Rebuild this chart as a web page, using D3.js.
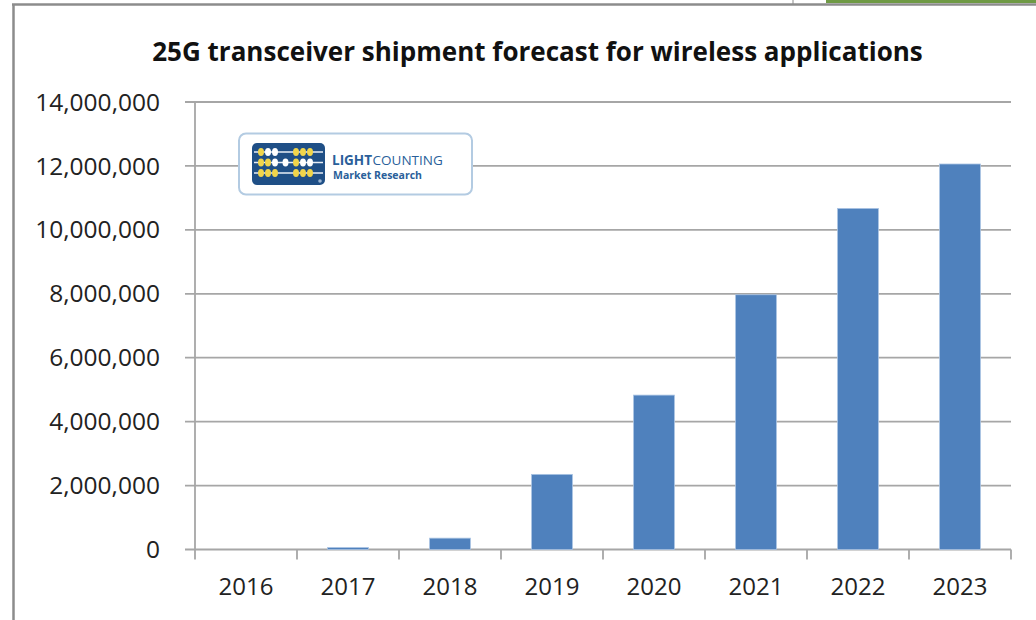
<!DOCTYPE html>
<html>
<head>
<meta charset="utf-8">
<script src="https://cdn.jsdelivr.net/npm/d3@7"></script>
<style>
  html, body { margin: 0; padding: 0; background: #ffffff; }
  svg { display: block; }
  text { font-family: "Open Sans", "Noto Sans", sans-serif; }
</style>
</head>
<body>
<svg id="chart" width="1036" height="620"></svg>
<script>
const titleText = "25G transceiver shipment forecast for wireless applications";
const years = ["2016", "2017", "2018", "2019", "2020", "2021", "2022", "2023"];
const shipments = [0, 60000, 355000, 2350000, 4830000, 7970000, 10670000, 12060000];
const yTicks = [0, 2000000, 4000000, 6000000, 8000000, 10000000, 12000000, 14000000];

const svg = d3.select("#chart");

// outer frame (partial, as cropped in the screenshot)
svg.append("rect").attr("x", 826).attr("y", 0).attr("width", 210).attr("height", 3).attr("fill", "#6f9a45");
svg.append("line").attr("x1", 793).attr("x2", 793).attr("y1", 0).attr("y2", 4).attr("stroke", "#b0b0b0").attr("stroke-width", 1.5);
svg.append("line").attr("x1", 12).attr("x2", 1036).attr("y1", 4.5).attr("y2", 4.5).attr("stroke", "#8c8c8c").attr("stroke-width", 2.5);
svg.append("line").attr("x1", 13.5).attr("x2", 13.5).attr("y1", 4).attr("y2", 620).attr("stroke", "#8c8c8c").attr("stroke-width", 2.5);

const plot = { left: 195, right: 1011, top: 102, bottom: 549.5 };

const x = d3.scaleBand().domain(years).range([plot.left, plot.right]).padding(0);
const y = d3.scaleLinear().domain([0, 14000000]).range([plot.bottom, plot.top]);

// gridlines + y tick marks
svg.append("g").selectAll("line").data(yTicks).join("line")
  .attr("x1", plot.left - 10).attr("x2", plot.right)
  .attr("y1", d => y(d)).attr("y2", d => y(d))
  .attr("stroke", "#a6a6a6").attr("stroke-width", 1.8);

// y axis line
svg.append("line").attr("x1", plot.left).attr("x2", plot.left)
  .attr("y1", plot.top).attr("y2", plot.bottom)
  .attr("stroke", "#a6a6a6").attr("stroke-width", 1.8);

// x tick marks at category boundaries
const bounds = years.map(d => x(d)).concat([x(years[years.length - 1]) + x.bandwidth()]);
svg.append("g").selectAll("line").data(bounds).join("line")
  .attr("x1", d => d).attr("x2", d => d)
  .attr("y1", plot.bottom).attr("y2", plot.bottom + 10)
  .attr("stroke", "#a6a6a6").attr("stroke-width", 1.8);

// bars
const barW = x.bandwidth() * 0.4;
svg.append("g").selectAll("rect").data(years).join("rect")
  .attr("x", d => x(d) + (x.bandwidth() - barW) / 2)
  .attr("width", barW)
  .attr("y", (d, i) => y(shipments[i]))
  .attr("height", (d, i) => y(0) - y(shipments[i]))
  .attr("fill", "#4f81bd")
  .attr("stroke", (d, i) => shipments[i] > 0 ? "#a9c3e3" : "none")
  .attr("stroke-width", 0.8);

// y labels
const fmt = d3.format(",");
svg.append("g").selectAll("text").data(yTicks).join("text")
  .attr("x", 160).attr("y", d => y(d))
  .attr("dy", "0.35em")
  .attr("text-anchor", "end")
  .attr("font-size", 24.5)
  .attr("fill", "#222222")
  .text(d => fmt(d));

// x labels
svg.append("g").selectAll("text").data(years).join("text")
  .attr("x", d => x(d) + x.bandwidth() / 2).attr("y", 595)
  .attr("text-anchor", "middle")
  .attr("font-size", 24)
  .attr("fill", "#222222")
  .text(d => d);

// title
const title = svg.append("text")
  .attr("x", 537.5).attr("y", 61)
  .attr("text-anchor", "middle")
  .attr("font-weight", "bold")
  .attr("font-size", 26)
  .attr("fill", "#111111")
  .text(titleText);
const tw = title.node().getComputedTextLength();
title.attr("font-size", 26 * 771 / tw);

// logo
const logo = svg.append("g");
logo.append("rect").attr("x", 239).attr("y", 133.5).attr("width", 233).attr("height", 61)
  .attr("rx", 7).attr("fill", "#ffffff").attr("stroke", "#b3cbe2").attr("stroke-width", 2);
logo.append("rect").attr("x", 252).attr("y", 143).attr("width", 73).attr("height", 42)
  .attr("rx", 5).attr("fill", "#1f4f86");
[152, 162.5, 173].forEach(yy => {
  logo.append("line").attr("x1", 254).attr("x2", 323).attr("y1", yy).attr("y2", yy)
    .attr("stroke", "#e8eef6").attr("stroke-width", 1.5);
});
const beadRows = [
  { y: 152, xs: [261, 268, 275, 296, 303, 310], cols: ["#f1d54b","#ffffff","#ffffff","#f1d54b","#f1d54b","#f1d54b"] },
  { y: 162.5, xs: [261, 268, 275, 285.5, 296, 303, 310], cols: ["#f1d54b","#f1d54b","#ffffff","#ffffff","#f1d54b","#ffffff","#ffffff"] },
  { y: 173, xs: [261, 268, 275, 296, 303, 310], cols: ["#f1d54b","#f1d54b","#f1d54b","#f1d54b","#f1d54b","#f1d54b"] }
];
beadRows.forEach(r => r.xs.forEach((bx, i) => {
  logo.append("ellipse").attr("cx", bx).attr("cy", r.y).attr("rx", 3).attr("ry", 4).attr("fill", r.cols[i]);
}));
logo.append("circle").attr("cx", 320).attr("cy", 181).attr("r", 1.8).attr("fill", "#9bb5d3");

const logoFont = "'Liberation Sans', Arial, sans-serif";
const t1 = logo.append("text").attr("x", 332).attr("y", 164.5).attr("font-size", 13.5)
  .attr("font-family", logoFont).attr("font-weight", "bold").attr("fill", "#2a5f9a").text("LIGHT");
const w1 = t1.node().getComputedTextLength();
const t2 = logo.append("text").attr("x", 332 + w1 + 0.5).attr("y", 164.5).attr("font-size", 13.5)
  .attr("font-family", logoFont).attr("fill", "#2a5f9a").text("COUNTING");
logo.append("text").attr("x", 333).attr("y", 178.5).attr("font-size", 10.5)
  .attr("font-family", logoFont).attr("font-weight", "bold")
  .attr("fill", "#2a5f9a").text("Market Research");
</script>
</body>
</html>
